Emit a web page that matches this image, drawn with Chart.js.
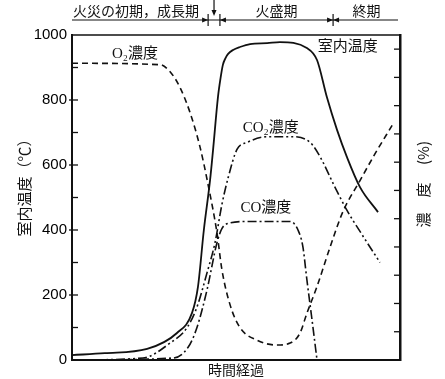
<!DOCTYPE html>
<html lang="ja">
<head>
  <meta charset="UTF-8">
  <script src="https://cdn.jsdelivr.net/npm/chart.js@4.4.1/dist/chart.umd.min.js"></script>
  <title>火災の進行と室内温度・ガス濃度</title>
  <style>
    html, body { margin: 0; padding: 0; background: #fff; }
  </style>
</head>
<body>
  <canvas id="myChart" width="445" height="379"></canvas>
  <script>
  // 横軸は時間経過（目盛なしなので 0〜100 の相対値）
  const timeTemp = [0, 10, 22.9, 32, 36.6, 38.4, 40.2, 42.1, 43, 44.5, 45.3, 46, 46.8, 47.6, 49.1, 51.2, 54.3, 59.5, 63.4, 71.6, 74.7, 77.7, 80.8, 83.8, 87.8, 93.3];
  const tempC    = [15, 21, 34, 83, 145, 225, 400, 554, 646, 809, 868, 908, 929, 942, 954, 963, 972, 975, 978, 960, 923, 809, 708, 625, 532, 455];

  const timeO2 = [0, 26.8, 29.9, 32.9, 36, 39, 41.5, 44.2, 45.7, 48.2, 51.2, 56.4, 62.5, 66.5, 69.5, 71.6, 74.7, 78.7, 82.6, 87.8, 92.4, 97.6];
  const o2Pct  = [21, 20.9, 20.4, 19.3, 17.5, 15.1, 12.4, 9.0, 6.4, 3.9, 2.3, 1.4, 1.06, 1.2, 1.9, 3.3, 5.2, 8.0, 10.5, 12.7, 14.6, 16.6];

  const timeCO2 = [0, 21.6, 29.9, 35.1, 38.1, 41.2, 43.6, 45.7, 47.6, 50.3, 53.4, 59.5, 67.4, 72.6, 75.6, 79.6, 83.8, 87.8, 93.9];
  const co2Pct  = [0, 0.14, 1.2, 2.3, 3.75, 6.2, 8.3, 11.0, 12.9, 14.9, 15.4, 15.8, 15.8, 15.4, 14.4, 12.5, 10.6, 9.1, 6.9];

  const timeCO = [0, 30.8, 35.4, 38.1, 41.2, 44.2, 45.7, 48.2, 53.4, 66.5, 68.9, 70.4, 71.6, 73.2, 74.7];
  const coPct  = [0, 0.14, 0.9, 2.3, 5.0, 8.3, 9.3, 9.7, 9.8, 9.8, 9.2, 8.0, 5.7, 2.8, 0];

  const phaseNames = ['火災の初期，成長期', '火盛期', '終期'];
  const phaseEdges = [41.5, 45.1, 79.6]; // 成長期の終り・火盛期の始まり・火盛期の終り

  const jp = "'Noto Sans CJK JP'";
  const serifJp = "'Liberation Serif', 'DejaVu Serif', 'Noto Sans CJK JP'";

  // 曲線名（横位置は時間、縦位置は℃の目盛で指定）
  const curveLabels = [
    { text: 'O₂濃度',   t: 19.2, v: 941 },
    { text: '室内温度', t: 84.1, v: 963 },
    { text: 'CO₂濃度',  t: 60.6, v: 714 },
    { text: 'CO濃度',   t: 59.1, v: 468 }
  ];

  const pts = (xs, ys) => xs.map((x, i) => ({ x: x, y: ys[i] }));

  function line(ctx, x1, y1, x2, y2) {
    ctx.beginPath(); ctx.moveTo(x1, y1); ctx.lineTo(x2, y2); ctx.stroke();
  }
  function tri(ctx, tipX, tipY, dir) { // dir: 1 = 右向き, -1 = 左向き
    ctx.beginPath();
    ctx.moveTo(tipX, tipY);
    ctx.lineTo(tipX - dir * 6, tipY - 2.5);
    ctx.lineTo(tipX - dir * 6, tipY + 2.5);
    ctx.closePath(); ctx.fill();
  }

  const extras = {
    id: 'extras',
    afterDraw(chart) {
      const { ctx, chartArea: a, scales: { x, y, y2 } } = chart;
      ctx.save();
      ctx.strokeStyle = '#111';
      ctx.fillStyle = '#111';

      // 上の枠線
      ctx.lineWidth = 1.5;
      line(ctx, a.left, a.top, a.right, a.top);

      // 内向きの目盛
      ctx.lineWidth = 1.3;
      for (let v = 100; v < 1000; v += 100) {
        const py = y.getPixelForValue(v);
        line(ctx, a.left - (v % 200 === 0 ? 3 : 0), py, a.left + 6, py);
      }
      for (let v = 2; v <= 22; v += 2) {
        const py = y2.getPixelForValue(v);
        line(ctx, a.right - 6, py, a.right, py);
      }

      // 曲線名
      ctx.font = '15px ' + serifJp;
      ctx.textAlign = 'center';
      ctx.textBaseline = 'middle';
      curveLabels.forEach(l => {
        ctx.fillText(l.text, x.getPixelForValue(l.t), y.getPixelForValue(l.v));
      });

      // 上部の段階表示
      const yb = a.top - 15;
      ctx.lineWidth = 1.2;
      line(ctx, a.left, yb, a.right - 2, yb);
      const e0 = x.getPixelForValue(phaseEdges[0]);
      const e1 = x.getPixelForValue(phaseEdges[1]);
      const e2 = x.getPixelForValue(phaseEdges[2]);
      [e0, e1, e2].forEach(px => line(ctx, px, yb - 6, px, yb + 6));
      tri(ctx, e0, yb, 1);
      tri(ctx, e1, yb, -1);
      tri(ctx, e2, yb, 1);
      tri(ctx, e2, yb, -1);
      const mid = (e0 + e1) / 2;
      line(ctx, mid, 0, mid, yb - 7);
      ctx.beginPath();
      ctx.moveTo(mid, yb - 4); ctx.lineTo(mid - 2.5, yb - 10); ctx.lineTo(mid + 2.5, yb - 10);
      ctx.closePath(); ctx.fill();

      ctx.font = '14px ' + jp;
      ctx.textBaseline = 'middle';
      const bounds = [[0, phaseEdges[0]], [phaseEdges[1], phaseEdges[2]], [phaseEdges[2], 100]];
      phaseNames.forEach((n, i) => {
        const cx = x.getPixelForValue((bounds[i][0] + bounds[i][1]) / 2);
        ctx.fillText(n, cx - (i === 0 ? 4 : 0), yb - 9);
      });

      // 縦軸の題
      ctx.font = '15px ' + jp;
      ctx.save();
      ctx.translate(24, 184);
      ctx.rotate(-Math.PI / 2);
      ctx.fillText('室内温度（℃）', 0, 0);
      ctx.restore();

      ctx.save();
      ctx.translate(423, 0);
      ctx.rotate(-Math.PI / 2);
      ctx.fillText('濃', -220, 0);
      ctx.fillText('度', -190, 0);
      ctx.fillText('(%)', -153, 0);
      ctx.restore();

      ctx.restore();
    }
  };

  const ctx = document.getElementById('myChart').getContext('2d');
  new Chart(ctx, {
    type: 'line',
    data: {
      datasets: [
        { label: '室内温度', data: pts(timeTemp, tempC), yAxisID: 'y', borderWidth: 1.8 },
        { label: 'O₂濃度', data: pts(timeO2, o2Pct), yAxisID: 'y2', borderWidth: 1.6, borderDash: [6, 4] },
        { label: 'CO₂濃度', data: pts(timeCO2, co2Pct), yAxisID: 'y2', borderWidth: 1.6, borderDash: [9, 3, 2, 3, 2, 3] },
        { label: 'CO濃度', data: pts(timeCO, coPct), yAxisID: 'y2', borderWidth: 1.6, borderDash: [9, 3, 2, 3] }
      ]
    },
    options: {
      responsive: false,
      animation: false,
      layout: { padding: { top: 35 } },
      elements: {
        point: { radius: 0 },
        line: { borderColor: '#111', cubicInterpolationMode: 'monotone', fill: false }
      },
      plugins: { legend: { display: false }, tooltip: { enabled: false } },
      scales: {
        x: {
          type: 'linear', min: 0, max: 100,
          ticks: { display: false },
          grid: { display: false, drawTicks: false },
          border: { color: '#111', width: 2 },
          title: { display: true, text: '時間経過', color: '#111', font: { family: jp, size: 14 }, padding: { top: 0, bottom: 1 } },
          afterFit: s => { s.height = 19; }
        },
        y: {
          position: 'left', min: 0, max: 1000,
          ticks: {
            stepSize: 100, autoSkip: false, padding: 5, color: '#000',
            font: { family: 'Liberation Sans', size: 15 },
            callback: v => (v % 200 === 0 ? v : '')
          },
          grid: { display: false, drawTicks: false },
          border: { color: '#111', width: 2 },
          afterFit: s => { s.width = 72; }
        },
        y2: {
          position: 'right', min: 0, max: 23,
          ticks: { display: false },
          grid: { display: false, drawTicks: false },
          border: { color: '#111', width: 2.5 },
          afterFit: s => { s.width = 45; }
        }
      }
    },
    plugins: [extras]
  });
  </script>
</body>
</html>
